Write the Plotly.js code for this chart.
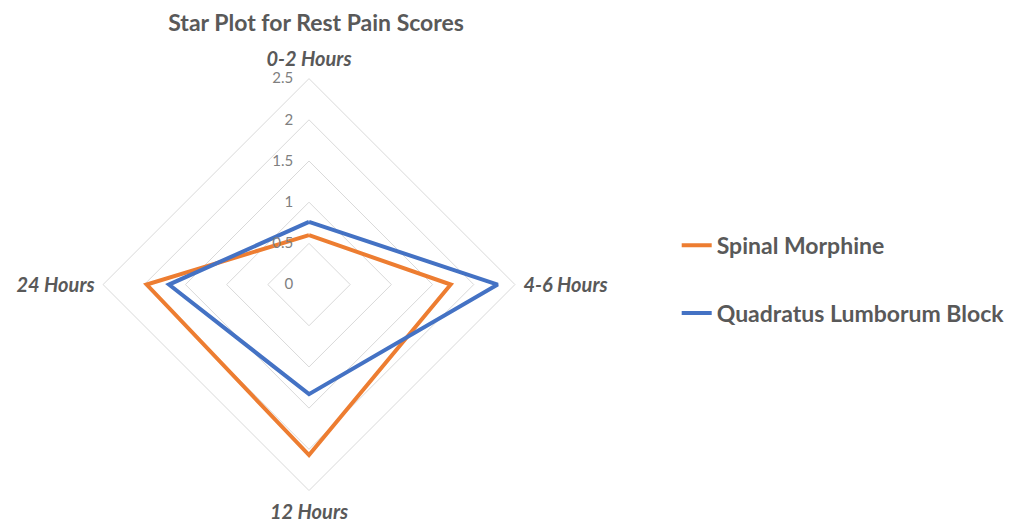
<!DOCTYPE html>
<html>
<head>
<meta charset="utf-8">
<script src="https://cdn.plot.ly/plotly-3.0.1.min.js"></script>
<style>html,body{margin:0;padding:0;background:#fff;}#chart{width:1010px;height:524px;}</style>
</head>
<body>
<div id="chart"></div>
<script>
const categories = ["0-2 Hours", "4-6 Hours", "12 Hours", "24 Hours"];
const spinalMorphine = [0.60, 1.72, 2.07, 1.97];
const quadratusLumborum = [0.76, 2.29, 1.33, 1.70];
const seriesNames = ["Spinal Morphine", "Quadratus Lumborum Block"];
const radialTicks = [0, 0.5, 1, 1.5, 2, 2.5];

const close = a => a.concat([a[0]]);

const traces = [
  {type: "scatterpolar", mode: "lines", name: seriesNames[0], legendgroup: "a",
   r: close(spinalMorphine), theta: close(categories),
   line: {color: "#ED7D31", width: 4}},
  {type: "scatterpolar", mode: "lines", name: seriesNames[1], legendgroup: "b",
   r: close(quadratusLumborum), theta: close(categories),
   line: {color: "#4472C4", width: 4}}
];

const layout = {
  width: 1010, height: 524,
  margin: {l: 0, r: 0, t: 0, b: 0},
  paper_bgcolor: "#fff",
  font: {family: "Lato, 'Open Sans', sans-serif", color: "#595959"},
  title: {text: "Star Plot for Rest Pain Scores", x: 0.313, xanchor: "center", y: 0.956, yanchor: "middle",
          font: {size: 23, family: "Lato, sans-serif", color: "#595959", weight: "bold"}},
  showlegend: true,
  legend: {x: 0.670, y: 0.573, xanchor: "left", yanchor: "top",
           font: {size: 23, color: "#595959", family: "Lato, sans-serif", weight: "bold"},
           tracegroupgap: 35, itemwidth: 30, bgcolor: "rgba(0,0,0,0)"},
  polar: {
    domain: {x: [0.102, 0.5099], y: [0.0639, 0.850]},
    gridshape: "linear",
    bgcolor: "#fff",
    radialaxis: {range: [0, 2.5], tickvals: radialTicks, angle: 90, showline: false,
                 gridcolor: "#d9d9d9", gridwidth: 1,
                 ticks: "outside", ticklen: 10, tickcolor: "rgba(0,0,0,0)",
                 tickfont: {size: 15, color: "#7f7f7f", family: "Lato, sans-serif"}, tickangle: 90, side: "counterclockwise"},
    angularaxis: {rotation: 90, direction: "clockwise", showgrid: false,
                  linecolor: "#d9d9d9", linewidth: 1,
                  ticks: "outside", ticklen: 4, tickcolor: "rgba(0,0,0,0)",
                  tickfont: {size: 20, color: "#595959", family: "Lato, sans-serif", style: "italic", weight: "bold"}}
  }
};

Plotly.newPlot("chart", traces, layout, {displayModeBar: false, staticPlot: true});
</script>
</body>
</html>
